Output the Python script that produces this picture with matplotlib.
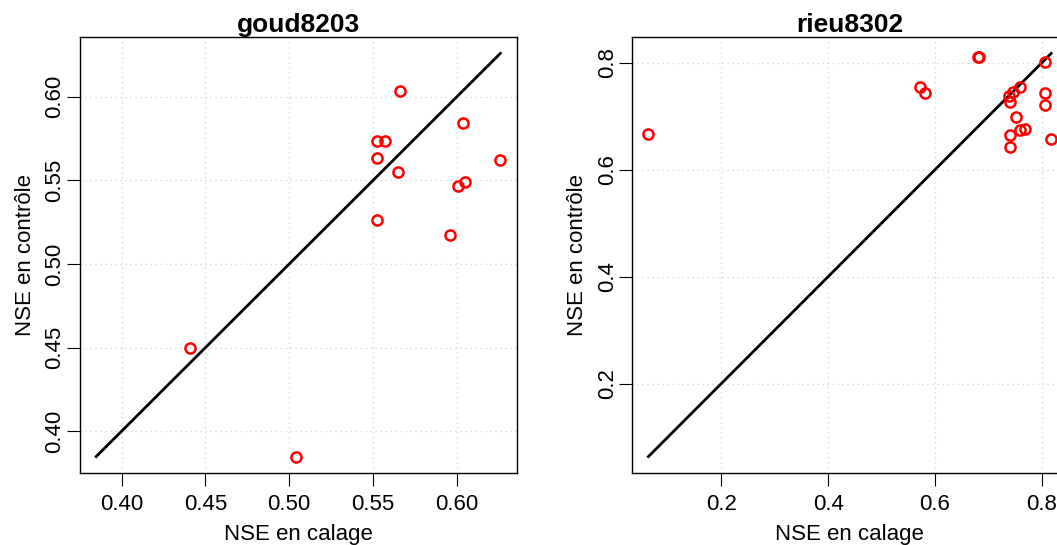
import matplotlib
matplotlib.use("Agg")
import matplotlib.pyplot as plt

plt.rcParams["font.family"] = ["Liberation Sans", "DejaVu Sans"]

# goud8203 : NSE en calage / NSE en contrôle
goud_cal = [0.5661, 0.6036, 0.5526, 0.5570, 0.5526, 0.6259, 0.5651,
            0.6048, 0.6006, 0.5526, 0.5960, 0.4406, 0.5038]
goud_ctl = [0.6032, 0.5845, 0.5737, 0.5737, 0.5635, 0.5624, 0.5548,
            0.5488, 0.5468, 0.5263, 0.5173, 0.4498, 0.3849]

# rieu8302
rieu_cal = [0.0636, 0.5726, 0.5813, 0.6810, 0.6815, 0.8050, 0.7596,
            0.7458, 0.7383, 0.7409, 0.8050, 0.8050, 0.7522, 0.7409,
            0.7596, 0.7677, 0.7396, 0.8176]
rieu_ctl = [0.6660, 0.7551, 0.7427, 0.8106, 0.8100, 0.8019, 0.7551,
            0.7458, 0.7378, 0.7271, 0.7439, 0.7209, 0.6979, 0.6649,
            0.6742, 0.6755, 0.6430, 0.6568]

goud_xticks = [0.40, 0.45, 0.50, 0.55, 0.60]
rieu_xticks = [0.2, 0.4, 0.6, 0.8]


def panel(ax, xcal, yctl, title, ticks, fmt):
    lo = min(min(xcal), min(yctl))
    hi = max(max(xcal), max(yctl))
    pad = 0.04 * (hi - lo)
    ax.set_xlim(lo - pad, hi + pad)
    ax.set_ylim(lo - pad, hi + pad)
    ax.grid(True, linestyle=(0, (1, 3)), color="lightgray", linewidth=0.9)
    ax.set_axisbelow(True)
    ax.plot([lo, hi], [lo, hi], color="black", linewidth=2)
    ax.plot(xcal, yctl, "o", mfc="none", mec="red", ms=7.3, mew=1.8)
    ax.set_xticks(ticks)
    ax.set_yticks(ticks)
    ax.set_xticklabels([fmt % t for t in ticks])
    ax.set_yticklabels([fmt % t for t in ticks], rotation=90, va="center")
    ax.tick_params(length=9.5, width=0.8, labelsize=16, pad=6)
    ax.tick_params(axis="y", pad=1)
    for s in ax.spines.values():
        s.set_linewidth(1)
    ax.set_title(title, fontsize=19, fontweight="bold", pad=3)
    ax.set_xlabel("NSE en calage", fontsize=16, labelpad=6)
    ax.set_ylabel("NSE en contrôle", fontsize=16, labelpad=6)


fig = plt.figure(figsize=(10.57, 5.45), dpi=100)
ax1 = fig.add_axes([0.0757, 0.1327, 0.413, 0.799])
ax2 = fig.add_axes([0.5982, 0.1327, 0.4116, 0.799])

panel(ax1, goud_cal, goud_ctl, "goud8203", goud_xticks, "%.2f")
panel(ax2, rieu_cal, rieu_ctl, "rieu8302", rieu_xticks, "%.1f")

fig.savefig("out.png", dpi=100)
